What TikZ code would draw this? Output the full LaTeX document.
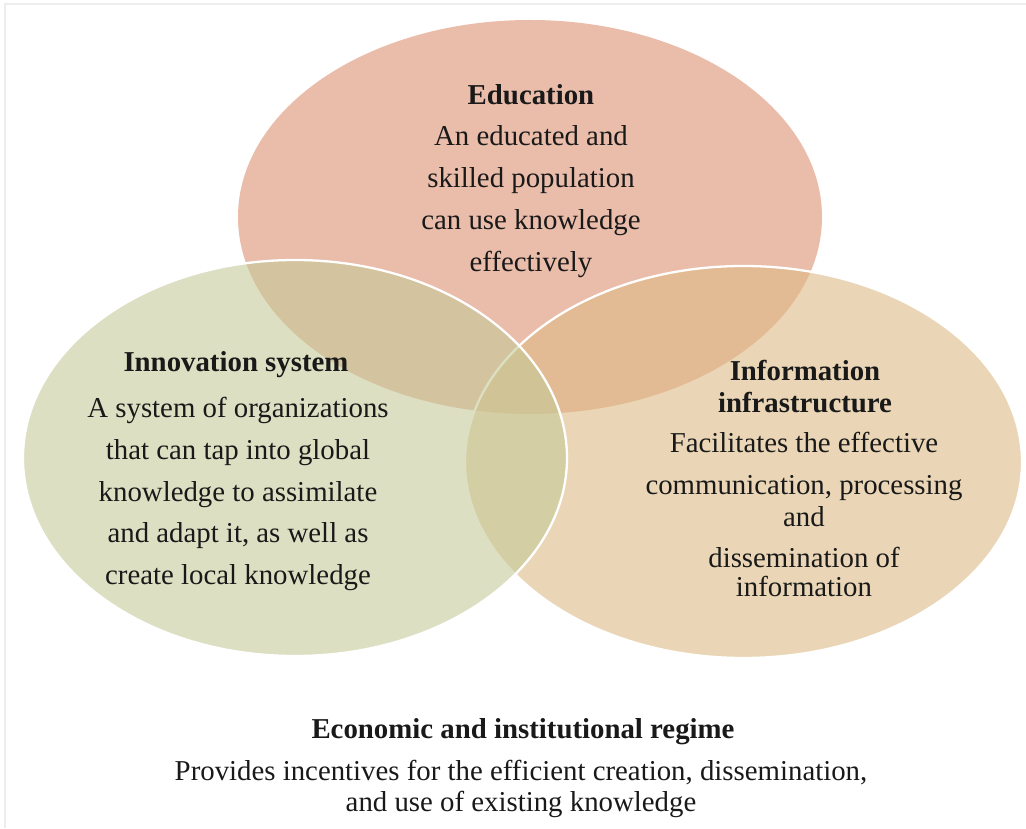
\documentclass[tikz,border=0pt]{standalone}
\usepackage{fontspec}
\setmainfont{Liberation Serif}
\usetikzlibrary{positioning, shapes.geometric}

\definecolor{edukasi}{RGB}{220,143,113}
\definecolor{inovasi}{RGB}{197,202,153}
\definecolor{infra}{RGB}{220,187,133}

\begin{document}
\begin{tikzpicture}[font=\normalsize,
      elips/.style={ellipse, inner sep=0pt, fill opacity=0.6, line width=1.3pt},
      judul/.style={align=center, text=black!90, font=\bfseries\fontsize{16.4pt}{17.8pt}\selectfont},
      teks/.style={align=center, text=black!90, font=\fontsize{16.4pt}{23.8pt}\selectfont},
      bingkai/.style={draw=black!7, line width=1.5pt}
    ]

    \useasboundingbox (0,0) rectangle (20.52,16.56);

    % ─── Bingkai tipis (atas & kiri) ────────────────────────────
    \draw[bingkai] (0.1,0) -- (0.1,16.48) -- (20.52,16.48);

    % ─── Tiga elips ─────────────────────────────────────────────
    \node[elips, fill=edukasi, minimum width=11.68cm, minimum height=7.88cm] (edu) at (10.6, 12.22) {};
    \node[elips, fill=infra, draw=white, minimum width=11.14cm, minimum height=7.84cm] (inf) at (14.87, 7.32) {};
    \node[elips, fill=inovasi, draw=white, minimum width=10.88cm, minimum height=7.92cm] (inov) at (5.9, 7.4) {};

    % ─── Education ──────────────────────────────────────────────
    \node[judul] (edu_j) at (10.62, 14.66) {Education};
    \node[teks]  (edu_t) at (10.62, 12.53) {An educated and\\ skilled population\\ can use knowledge\\ effectively};

    % ─── Innovation system ──────────────────────────────────────
    \node[judul] (inov_j) at (4.72, 9.26) {Innovation system};
    \node[teks]  (inov_t) at (4.76, 6.68) {A system of organizations\\ that can tap into global\\ knowledge to assimilate\\ and adapt it, as well as\\ create local knowledge};

    % ─── Information infrastructure ─────────────────────────────
    \node[judul] (inf_j) at (16.1, 8.83) {Information\\ infrastructure};
    \node[teks]  (inf_t) at (16.08, 6.27) {Facilitates the effective\\ communication, processing\\[-5.6pt] and\\ dissemination of\\[-7.3pt] information};

    % ─── Economic and institutional regime (bawah) ──────────────
    \node[judul] (eko_j) at (10.46, 1.92) {Economic and institutional regime};
    \node[teks, font=\fontsize{16.4pt}{17.8pt}\selectfont] (eko_t) at (10.42, 0.78) {Provides incentives for the efficient creation, dissemination,\\ and use of existing knowledge};

\end{tikzpicture}
\end{document}
